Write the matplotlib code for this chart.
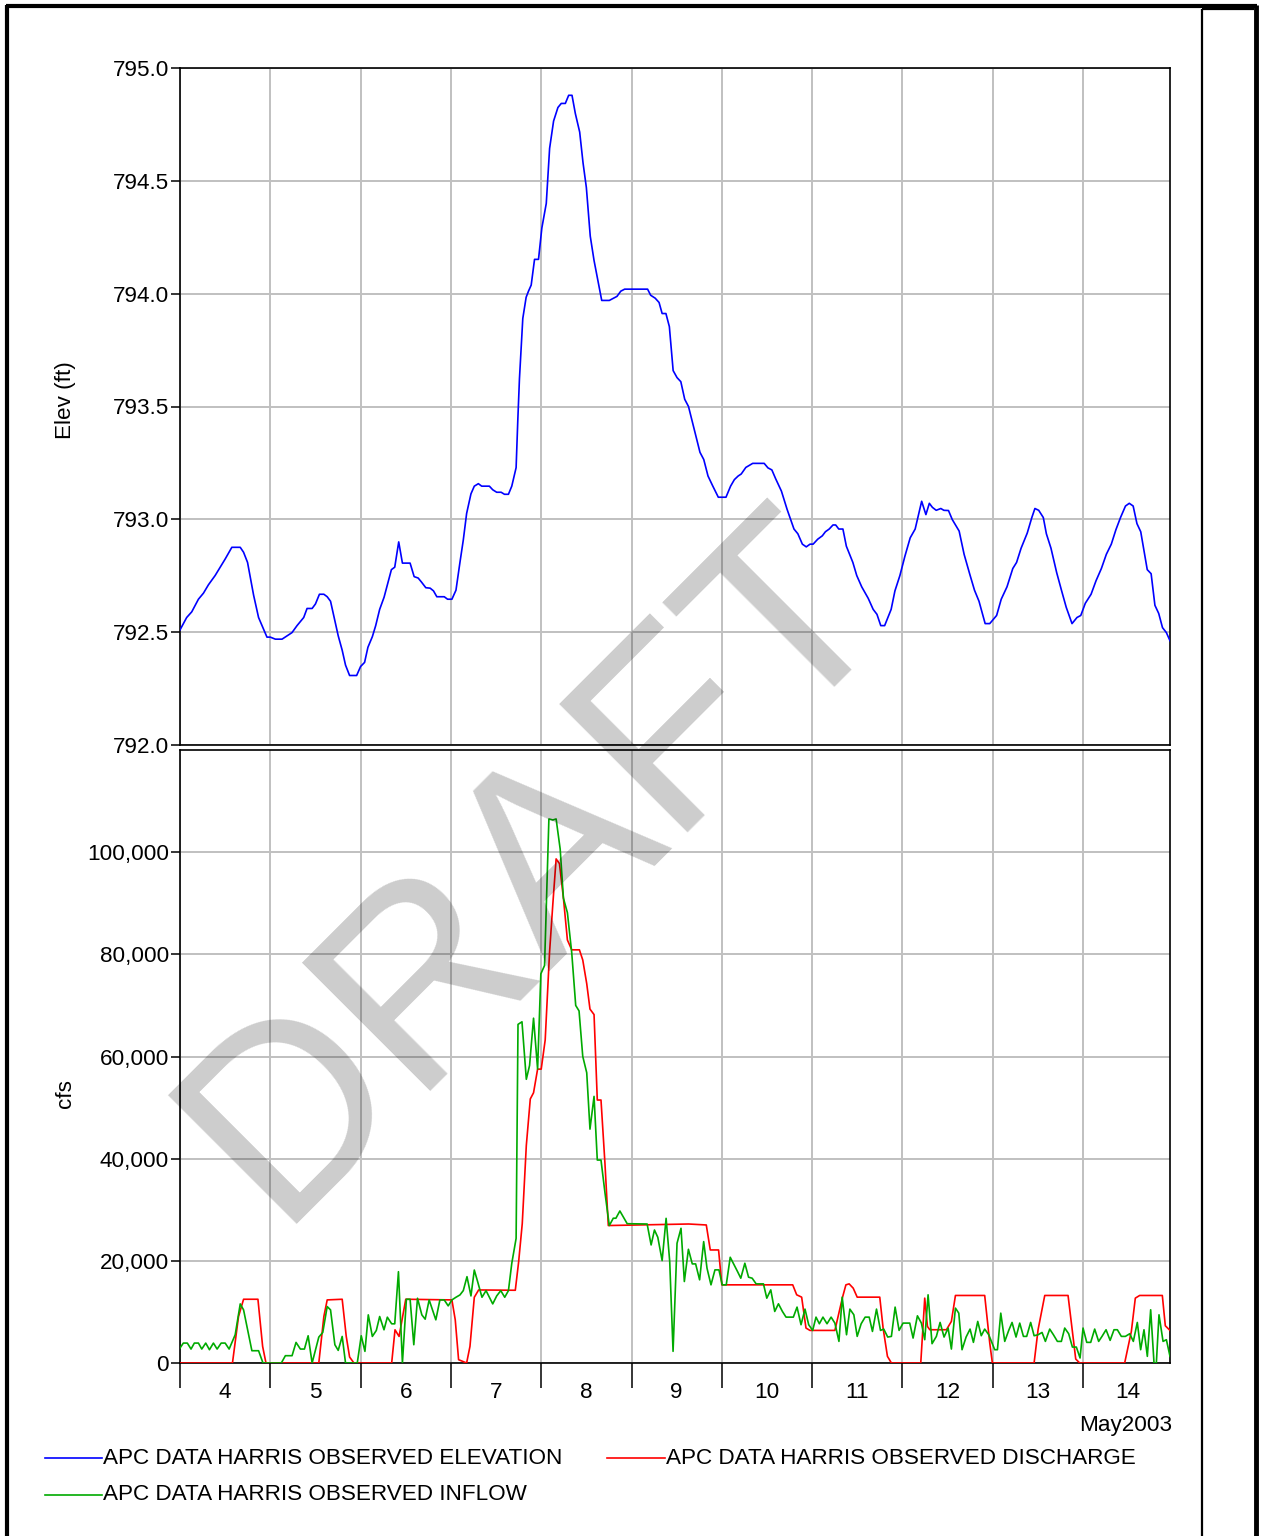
import matplotlib
matplotlib.use("Agg")
import matplotlib.pyplot as plt
from matplotlib.lines import Line2D
from matplotlib.ticker import FuncFormatter, FixedLocator, NullFormatter

plt.rcParams['font.family'] = ['Liberation Sans', 'DejaVu Sans']

# ---------------- data (time in days after 4 May 2003 00:00) ----------------
elev_days = [0.000, 0.074, 0.130, 0.204, 0.260, 0.315, 0.389, 0.500, 0.574, 0.667, 0.704, 0.748, 0.815, 0.870,
             0.963, 1.000, 1.056, 1.130, 1.240, 1.296, 1.370, 1.407, 1.463, 1.500, 1.544, 1.593, 1.630, 1.667,
             1.704, 1.752, 1.796, 1.833, 1.878, 1.956, 2.000, 2.044, 2.081, 2.130, 2.167, 2.211, 2.260, 2.296,
             2.341, 2.378, 2.422, 2.463, 2.548, 2.593, 2.637, 2.674, 2.722, 2.770, 2.807, 2.844, 2.926, 2.963,
             3.011, 3.056, 3.100, 3.137, 3.174, 3.222, 3.259, 3.304, 3.341, 3.426, 3.463, 3.507, 3.556, 3.593,
             3.637, 3.674, 3.722, 3.741, 3.759, 3.796, 3.833, 3.859, 3.889, 3.926, 3.970, 4.007, 4.056, 4.093,
             4.137, 4.185, 4.222, 4.267, 4.304, 4.341, 4.378, 4.426, 4.463, 4.500, 4.543, 4.585, 4.670, 4.754,
             4.839, 4.881, 4.924, 5.178, 5.212, 5.262, 5.305, 5.339, 5.381, 5.419, 5.461, 5.504, 5.546, 5.589,
             5.631, 5.707, 5.758, 5.800, 5.847, 5.898, 5.961, 6.046, 6.097, 6.139, 6.181, 6.215, 6.266, 6.342,
             6.469, 6.511, 6.554, 6.596, 6.660, 6.723, 6.799, 6.842, 6.892, 6.935, 6.977, 7.011, 7.062, 7.113,
             7.147, 7.189, 7.231, 7.261, 7.295, 7.341, 7.379, 7.451, 7.494, 7.549, 7.621, 7.676, 7.718, 7.760,
             7.803, 7.875, 7.917, 7.972, 8.027, 8.086, 8.141, 8.213, 8.260, 8.298, 8.332, 8.374, 8.425, 8.459,
             8.510, 8.552, 8.628, 8.683, 8.747, 8.798, 8.848, 8.916, 8.967, 9.043, 9.094, 9.158, 9.222, 9.264,
             9.314, 9.382, 9.433, 9.467, 9.509, 9.560, 9.594, 9.645, 9.708, 9.763, 9.814, 9.878, 9.933, 9.975,
             10.025, 10.089, 10.144, 10.203, 10.258, 10.313, 10.364, 10.415, 10.470, 10.512, 10.555, 10.597,
             10.639, 10.711, 10.754, 10.796, 10.838, 10.880, 10.923, 10.963]
elev_ft = [792.510, 792.565, 792.590, 792.646, 792.673, 792.710, 792.751, 792.824, 792.876, 792.876, 792.854,
           792.809, 792.664, 792.565, 792.478, 792.478, 792.469, 792.469, 792.498, 792.529, 792.565, 792.605,
           792.605, 792.625, 792.668, 792.668, 792.657, 792.637, 792.571, 792.484, 792.420, 792.354, 792.308,
           792.308, 792.348, 792.366, 792.433, 792.480, 792.529, 792.601, 792.655, 792.710, 792.777, 792.788,
           792.900, 792.806, 792.806, 792.746, 792.740, 792.722, 792.697, 792.695, 792.683, 792.657, 792.657,
           792.646, 792.646, 792.686, 792.809, 792.908, 793.026, 793.113, 793.147, 793.158, 793.147, 793.147,
           793.131, 793.120, 793.120, 793.111, 793.111, 793.147, 793.229, 793.442, 793.623, 793.890, 793.984,
           794.011, 794.038, 794.152, 794.152, 794.291, 794.400, 794.644, 794.765, 794.825, 794.843, 794.843,
           794.879, 794.879, 794.798, 794.716, 794.580, 794.470, 794.255, 794.147, 793.970, 793.970, 793.988,
           794.011, 794.020, 794.020, 793.993, 793.980, 793.961, 793.912, 793.912, 793.854, 793.659, 793.628,
           793.610, 793.532, 793.500, 793.379, 793.297, 793.265, 793.192, 793.149, 793.098, 793.098, 793.147,
           793.176, 793.192, 793.201, 793.230, 793.248, 793.248, 793.228, 793.219, 793.180, 793.125, 793.044,
           792.957, 792.936, 792.890, 792.878, 792.890, 792.890, 792.912, 792.927, 792.945, 792.957, 792.975,
           792.975, 792.957, 792.957, 792.881, 792.809, 792.751, 792.701, 792.650, 792.601, 792.579, 792.529,
           792.529, 792.601, 792.683, 792.751, 792.836, 792.918, 792.957, 793.080, 793.021, 793.071, 793.053,
           793.040, 793.048, 793.040, 793.039, 792.999, 792.948, 792.845, 792.755, 792.686, 792.637, 792.538,
           792.538, 792.574, 792.646, 792.701, 792.782, 792.809, 792.872, 792.939, 793.008, 793.048, 793.040,
           793.008, 792.936, 792.872, 792.764, 792.683, 792.610, 792.538, 792.565, 792.574, 792.628, 792.668,
           792.728, 792.782, 792.845, 792.890, 792.954, 793.008, 793.059, 793.071, 793.059, 792.981, 792.945,
           792.777, 792.759, 792.619, 792.583, 792.520, 792.498, 792.462]

discharge_days = [0.000, 0.581, 0.648, 0.704, 0.863, 0.915, 0.952, 1.537, 1.593, 1.630, 1.796, 1.841, 1.878,
                  1.926, 2.344, 2.381, 2.426, 2.500, 3.011, 3.048, 3.085, 3.174, 3.211, 3.259, 3.307, 3.713,
                  3.750, 3.790, 3.835, 3.879, 3.915, 3.960, 4.000, 4.044, 4.092, 4.129, 4.165, 4.202, 4.246,
                  4.290, 4.338, 4.423, 4.460, 4.504, 4.540, 4.585, 4.621, 4.662, 4.706, 4.743, 5.633, 5.828,
                  5.872, 5.964, 6.000, 6.785, 6.829, 6.884, 6.932, 6.976, 7.252, 7.337, 7.374, 7.410, 7.455,
                  7.499, 7.749, 7.786, 7.834, 7.878, 8.203, 8.247, 8.277, 8.303, 8.487, 8.542, 8.587, 8.911,
                  8.967, 8.996, 9.458, 9.502, 9.576, 9.834, 9.871, 9.919, 9.963, 10.461, 10.535, 10.579,
                  10.627, 10.878, 10.911, 10.963]
discharge_cfs = [0, 0, 9100, 12480, 12480, 3250, 0, 0, 9100, 12350, 12480, 5200, 1170,
                 0, 0, 6500, 5200, 12480, 12350, 8450, 650, 0, 3250, 12870, 14300, 14240,
                 19800, 27270, 42580, 51690, 52900, 57530, 57530, 63230, 80310, 89930, 98680, 97760, 90990,
                 82810, 80880, 80880, 78890, 74260, 69280, 68210, 51480, 51480, 39020, 26910, 27210, 27020,
                 22130, 22130, 15300, 15300, 13350, 12890, 6840, 6380, 6380, 12890, 15300, 15490, 14650,
                 12890, 12890, 6840, 1300, 0, 0, 12700, 7160, 6510, 6510, 8140, 13220, 13220,
                 3900, 0, 0, 6510, 13220, 13220, 7810, 780, 0, 0, 6180, 12700,
                 13220, 13220, 7290, 6380]

inflow_days = [0.000, 0.037, 0.081, 0.122, 0.159, 0.204, 0.241, 0.285, 0.326, 0.370, 0.411, 0.456, 0.500,
               0.544, 0.611, 0.667, 0.704, 0.752, 0.796, 0.870, 0.919, 1.122, 1.167, 1.241, 1.285, 1.333,
               1.378, 1.419, 1.463, 1.537, 1.581, 1.630, 1.667, 1.715, 1.752, 1.796, 1.833, 1.963, 2.007,
               2.048, 2.085, 2.130, 2.174, 2.211, 2.259, 2.296, 2.344, 2.378, 2.419, 2.463, 2.507, 2.548,
               2.589, 2.630, 2.678, 2.715, 2.759, 2.833, 2.878, 2.926, 2.970, 3.011, 3.056, 3.100, 3.137,
               3.178, 3.222, 3.259, 3.296, 3.344, 3.389, 3.463, 3.507, 3.552, 3.596, 3.637, 3.674, 3.722,
               3.743, 3.787, 3.835, 3.871, 3.915, 3.960, 3.996, 4.037, 4.085, 4.129, 4.165, 4.210, 4.246,
               4.290, 4.338, 4.382, 4.419, 4.460, 4.504, 4.540, 4.585, 4.621, 4.662, 4.706, 4.754, 4.798,
               4.827, 4.871, 4.952, 5.173, 5.217, 5.254, 5.291, 5.339, 5.383, 5.423, 5.460, 5.504, 5.548,
               5.585, 5.630, 5.673, 5.710, 5.754, 5.799, 5.836, 5.880, 5.924, 5.968, 6.005, 6.049, 6.093,
               6.137, 6.174, 6.210, 6.255, 6.296, 6.336, 6.380, 6.461, 6.498, 6.542, 6.586, 6.627, 6.671,
               6.711, 6.792, 6.833, 6.877, 6.921, 6.962, 7.006, 7.043, 7.080, 7.120, 7.165, 7.210, 7.252,
               7.297, 7.333, 7.381, 7.418, 7.462, 7.499, 7.543, 7.587, 7.632, 7.668, 7.713, 7.757, 7.793,
               7.837, 7.878, 7.919, 7.963, 8.007, 8.081, 8.118, 8.166, 8.210, 8.247, 8.284, 8.328, 8.376,
               8.417, 8.461, 8.506, 8.542, 8.587, 8.624, 8.660, 8.705, 8.749, 8.786, 8.834, 8.873, 8.911,
               8.956, 9.022, 9.052, 9.089, 9.133, 9.177, 9.214, 9.258, 9.299, 9.340, 9.376, 9.420, 9.458,
               9.502, 9.546, 9.583, 9.631, 9.672, 9.716, 9.760, 9.797, 9.841, 9.882, 9.926, 9.967, 10.000,
               10.041, 10.085, 10.129, 10.173, 10.210, 10.255, 10.300, 10.343, 10.380, 10.424, 10.469,
               10.517, 10.557, 10.601, 10.638, 10.675, 10.712, 10.749, 10.786, 10.812, 10.841, 10.886,
               10.923, 10.963]
inflow_cfs = [2925, 3900, 3900, 2730, 3900, 3900, 2730, 3900, 2600, 3900, 2730, 3900, 3900,
              2730, 5525, 11570, 10400, 6175, 2405, 2405, 0, 0, 1430, 1430, 4030, 2730,
              2730, 5330, 0, 5070, 5980, 11050, 10400, 3575, 2470, 5200, 0, 0, 5330,
              2275, 9425, 5200, 6370, 9100, 6500, 8970, 7670, 7670, 17875, 0, 12480, 12480,
              3575, 12675, 9425, 8580, 12350, 8450, 12350, 12350, 11180, 12350, 12870, 13325, 14170,
              16900, 13130, 18200, 15925, 12870, 14170, 11570, 13130, 14170, 12870, 14170, 19500, 24400,
              66290, 66790, 55540, 58240, 67500, 57530, 76180, 77820, 106500, 106300, 106500, 100600, 90990,
              88150, 80310, 69990, 68920, 60020, 56820, 45780, 52190, 39730, 39730, 33320, 26910, 28340,
              28340, 29760, 27270, 27210, 23110, 26040, 24610, 20050, 28320, 19860, 2280, 23440, 26370,
              15950, 22260, 19400, 19400, 16280, 23760, 18550, 15300, 18230, 18230, 15300, 15300, 20700,
              19200, 17900, 16600, 19530, 16800, 16600, 15490, 15490, 12690, 14320, 10090, 11590, 10090,
              8980, 8980, 10940, 7490, 10550, 7490, 6380, 8980, 7680, 8980, 7680, 8980, 7810,
              4230, 12890, 5530, 10550, 9440, 5210, 7680, 8980, 8980, 6180, 10550, 6380, 6640,
              5080, 5210, 10940, 6380, 7810, 7810, 4880, 9240, 7810, 4560, 13350, 3780, 5210,
              7940, 5080, 6840, 2730, 10740, 9760, 2600, 5080, 6640, 4040, 8140, 5340, 6640,
              5530, 2600, 2600, 9760, 4230, 6380, 7940, 5080, 7810, 5210, 5210, 7940, 5340,
              5530, 5980, 4230, 6640, 5530, 4230, 4230, 6840, 5730, 3120, 3120, 980, 6840,
              4040, 4040, 6640, 4230, 5210, 6510, 4430, 6510, 6510, 5210, 5210,
              5730, 4230, 7940, 2600, 6510, 1300, 10420, 0, 0, 9440, 4230,
              4560, 1300]

day_labels = ['4', '5', '6', '7', '8', '9', '10', '11', '12', '13', '14']
elev_ticks = [792.0, 792.5, 793.0, 793.5, 794.0, 794.5, 795.0]
flow_ticks = [0, 20000, 40000, 60000, 80000, 100000]
series_names = ['APC DATA HARRIS OBSERVED ELEVATION', 'APC DATA HARRIS OBSERVED DISCHARGE',
                'APC DATA HARRIS OBSERVED INFLOW']
series_colors = ['#0000ff', '#ff0000', '#00aa00']

# ---------------- figure ----------------
W, H = 1262, 1536
fig = plt.figure(figsize=(W / 100, H / 100), dpi=100)


def fx(px):
    return px / W


def fy(py):
    return 1 - py / H


FS = 16.2
GRID = '#c0c0c0'
xmax = 10.963

ax1 = fig.add_axes([fx(180), fy(745), fx(1170) - fx(180), fy(68) - fy(745)])
ax2 = fig.add_axes([fx(180), fy(1363), fx(1170) - fx(180), fy(750) - fy(1363)])

for ax in (ax1, ax2):
    ax.set_xlim(0, xmax)
    ax.xaxis.set_major_locator(FixedLocator(list(range(0, 11))))
    ax.grid(True, which='major', color=GRID, lw=1.4, zorder=0)
    ax.set_axisbelow(True)
    for s in ax.spines.values():
        s.set_linewidth(1.2)
        s.set_color('black')
    ax.tick_params(axis='y', which='major', length=6.5, width=1.1, pad=1.5, labelsize=FS, direction='out')

# top panel
ax1.plot(elev_days, elev_ft, color=series_colors[0], lw=1.2, zorder=3)
ax1.set_ylim(792.0, 795.0)
ax1.set_yticks(elev_ticks)
ax1.yaxis.set_major_formatter(FuncFormatter(lambda v, p: f'{v:.1f}'))
ax1.tick_params(axis='x', which='both', length=0, labelbottom=False)

# bottom panel
ax2.plot(discharge_days, discharge_cfs, color=series_colors[1], lw=1.2, zorder=3)
ax2.plot(inflow_days, inflow_cfs, color=series_colors[2], lw=1.2, zorder=4)
ax2.set_ylim(0, 120000)
ax2.set_yticks(flow_ticks)
ax2.yaxis.set_major_formatter(FuncFormatter(lambda v, p: f'{int(v):,}'))
ax2.xaxis.set_major_formatter(NullFormatter())
ax2.tick_params(axis='x', which='major', length=18, width=1.1, direction='out')
ax2.xaxis.set_minor_locator(FixedLocator([i + 0.5 for i in range(len(day_labels))]))
ax2.xaxis.set_minor_formatter(FuncFormatter(lambda v, p: day_labels[int(v)] if int(v) < len(day_labels) else ''))
ax2.tick_params(axis='x', which='minor', length=0, pad=13.5, labelsize=FS)

# axis labels
fig.text(fx(65), fy(400), 'Elev (ft)', rotation=90, ha='center', va='center', fontsize=FS)
fig.text(fx(65), fy(1093), 'cfs', rotation=90, ha='center', va='center', fontsize=FS)
fig.text(fx(1172), fy(1425), 'May2003', ha='right', va='center', fontsize=FS)

# legend
leg_entries = [(45, 102, 1458, 0), (607, 665, 1458, 1), (45, 102, 1495, 2)]
for x0, x1, yy, i in leg_entries:
    fig.add_artist(Line2D([fx(x0), fx(x1)], [fy(yy), fy(yy)], color=series_colors[i], lw=1.2,
                          transform=fig.transFigure))
    fig.text(fx(x1 + 1), fy(yy), series_names[i], ha='left', va='center', fontsize=FS)

# page frame
frame = [((6, 1257), (6, 6), 3.0), ((6.5, 6.5), (5, 1536), 3.0), ((1255.5, 1255.5), (5, 1536), 3.5),
         ((1202, 1202), (9, 1536), 1.6), ((1202, 1254), (9, 9), 1.6)]
for xs, ys, lw in frame:
    fig.add_artist(Line2D([fx(xs[0]), fx(xs[1])], [fy(ys[0]), fy(ys[1])], color='black', lw=lw,
                          transform=fig.transFigure, solid_capstyle='butt'))

# watermark
fig.text(fx(584), fy(914), 'DRAFT', rotation=45, rotation_mode='anchor', ha='center', va='baseline',
         fontsize=189, color='black', alpha=0.2, zorder=20)

fig.savefig('out.png', dpi=100)
